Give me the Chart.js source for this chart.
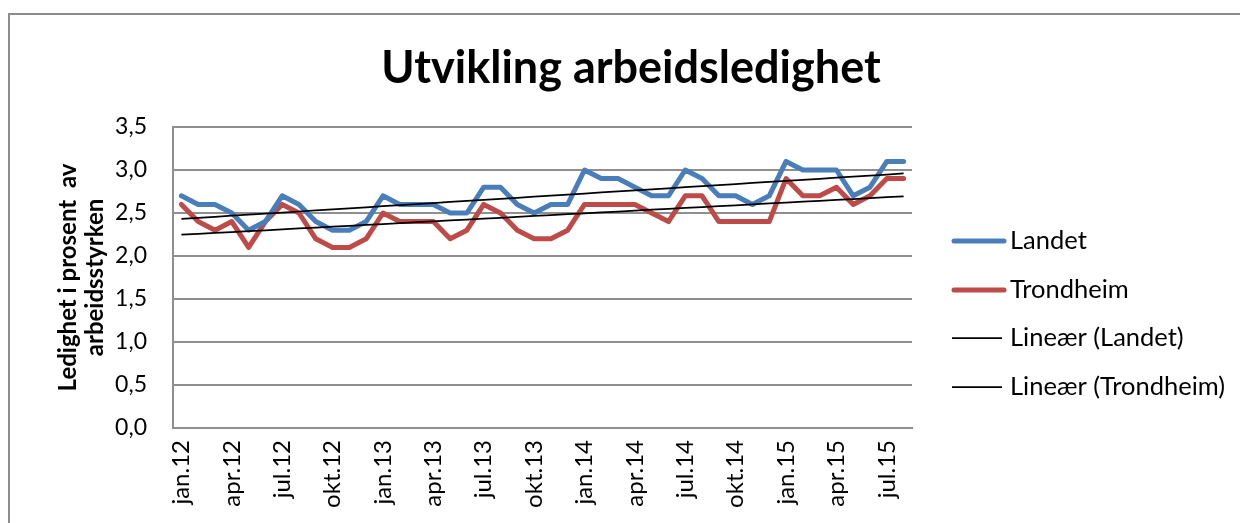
<!DOCTYPE html>
<html>
<head>
<meta charset="utf-8">
<script src="https://cdn.jsdelivr.net/npm/chart.js@4"></script>
<style>
  html, body { margin: 0; padding: 0; background: #ffffff; }
  #wrap { width: 1240px; height: 523px; position: relative; }
</style>
</head>
<body>
<div id="wrap"><canvas id="c" width="1240" height="523"></canvas></div>
<script>
// ---- DATA ----
const months = [
  'jan.12','feb.12','mar.12','apr.12','mai.12','jun.12','jul.12','aug.12','sep.12','okt.12','nov.12','des.12',
  'jan.13','feb.13','mar.13','apr.13','mai.13','jun.13','jul.13','aug.13','sep.13','okt.13','nov.13','des.13',
  'jan.14','feb.14','mar.14','apr.14','mai.14','jun.14','jul.14','aug.14','sep.14','okt.14','nov.14','des.14',
  'jan.15','feb.15','mar.15','apr.15','mai.15','jun.15','jul.15','aug.15'
];
const landet = [
  2.7,2.6,2.6,2.5,2.3,2.4,2.7,2.6,2.4,2.3,2.3,2.4,
  2.7,2.6,2.6,2.6,2.5,2.5,2.8,2.8,2.6,2.5,2.6,2.6,
  3.0,2.9,2.9,2.8,2.7,2.7,3.0,2.9,2.7,2.7,2.6,2.7,
  3.1,3.0,3.0,3.0,2.7,2.8,3.1,3.1
];
const trondheim = [
  2.6,2.4,2.3,2.4,2.1,2.4,2.6,2.5,2.2,2.1,2.1,2.2,
  2.5,2.4,2.4,2.4,2.2,2.3,2.6,2.5,2.3,2.2,2.2,2.3,
  2.6,2.6,2.6,2.6,2.5,2.4,2.7,2.7,2.4,2.4,2.4,2.4,
  2.9,2.7,2.7,2.8,2.6,2.7,2.9,2.9
];
const xTickLabels = ['jan.12','apr.12','jul.12','okt.12','jan.13','apr.13','jul.13','okt.13','jan.14','apr.14','jul.14','okt.14','jan.15','apr.15','jul.15'];
const yTickLabels = ['0,0','0,5','1,0','1,5','2,0','2,5','3,0','3,5'];
const seriesNames = ['Landet','Trondheim','Lineær (Landet)','Lineær (Trondheim)'];
const titleText = 'Utvikling arbeidsledighet';
const yTitle = ['Ledighet i prosent  av', 'arbeidsstyrken'];

// Linear trend (least squares, as Excel's linear trendline)
function linearTrend(vals) {
  const n = vals.length;
  let sx = 0, sy = 0, sxx = 0, sxy = 0;
  vals.forEach((v, i) => { const x = i + 1; sx += x; sy += v; sxx += x * x; sxy += x * v; });
  const b = (n * sxy - sx * sy) / (n * sxx - sx * sx);
  const a = (sy - b * sx) / n;
  return vals.map((_, i) => a + b * (i + 1));
}
const trendLandet = linearTrend(landet);
const trendTrondheim = linearTrend(trondheim);

// ---- STYLE ----
const FONT = 'Lato, "Open Sans", sans-serif';
const BLUE = '#4a7ebb';
const RED = '#be4b48';
const GRID = '#8f8f8f';

const decorPlugin = {
  id: 'decor',
  beforeDraw(chart) {
    const ctx = chart.ctx;
    ctx.save();
    ctx.fillStyle = '#fff';
    ctx.fillRect(0, 0, chart.width, chart.height);
    ctx.strokeStyle = '#8c8c8c';
    ctx.lineWidth = 2;
    ctx.beginPath();
    ctx.moveTo(9, 523);
    ctx.lineTo(9, 14);
    ctx.lineTo(1240, 14);
    ctx.stroke();
    ctx.restore();
  },
  afterDraw(chart) {
    const ctx = chart.ctx;
    ctx.save();
    // Title
    ctx.fillStyle = '#000';
    ctx.font = 'bold 45px ' + FONT;
    ctx.textAlign = 'center';
    ctx.textBaseline = 'alphabetic';
    ctx.fillText(titleText, 631, 83);
    // Legend
    const items = [
      { c: BLUE, w: 5, y: 241 },
      { c: RED, w: 5, y: 290 },
      { c: '#000', w: 1.75, y: 338 },
      { c: '#000', w: 1.75, y: 387 }
    ];
    ctx.font = '25.5px ' + FONT;
    ctx.textAlign = 'left';
    ctx.textBaseline = 'middle';
    items.forEach((it, i) => {
      ctx.strokeStyle = it.c;
      ctx.lineWidth = it.w;
      ctx.lineCap = it.w > 2 ? 'round' : 'butt';
      ctx.beginPath();
      ctx.moveTo(it.w > 2 ? 954 : 952, it.y);
      ctx.lineTo(it.w > 2 ? 1004 : 1002, it.y);
      ctx.stroke();
      ctx.fillStyle = '#000';
      ctx.fillText(seriesNames[i], 1010, it.y);
    });
    ctx.restore();
  }
};

new Chart(document.getElementById('c'), {
  type: 'line',
  data: {
    labels: months,
    datasets: [
      { label: seriesNames[2], data: trendLandet, borderColor: '#000', borderWidth: 1.75, pointRadius: 0, order: 0 },
      { label: seriesNames[3], data: trendTrondheim, borderColor: '#000', borderWidth: 1.75, pointRadius: 0, order: 0 },
      { label: seriesNames[0], data: landet, borderColor: BLUE, borderWidth: 5, pointRadius: 0, order: 1,
        borderJoinStyle: 'round', borderCapStyle: 'round' },
      { label: seriesNames[1], data: trondheim, borderColor: RED, borderWidth: 5, pointRadius: 0, order: 2,
        borderJoinStyle: 'round', borderCapStyle: 'round' }
    ]
  },
  options: {
    responsive: false,
    animation: false,
    devicePixelRatio: 1,
    layout: { padding: { top: 127, left: 0, right: 328, bottom: 0 } },
    plugins: {
      legend: { display: false },
      title: { display: false },
      tooltip: { enabled: false }
    },
    elements: { line: { tension: 0 } },
    scales: {
      x: {
        type: 'category',
        offset: true,
        grid: { display: false, drawTicks: false },
        border: { display: true, color: GRID, width: 2 },
        ticks: {
          autoSkip: false,
          maxRotation: 90,
          minRotation: 90,
          padding: 12,
          color: '#000',
          font: { family: FONT, size: 24 },
          callback: function (val, idx) {
            const lab = months[idx];
            return xTickLabels.includes(lab) ? lab : '';
          }
        },
        afterFit(scale) { scale.height = 95; }
      },
      y: {
        min: 0,
        max: 3.5,
        grid: { color: GRID, lineWidth: 2, drawTicks: false },
        border: { display: true, color: GRID, width: 2 },
        ticks: {
          stepSize: 0.5,
          padding: 26,
          color: '#000',
          font: { family: FONT, size: 23 },
          callback: function (v) { return yTickLabels[Math.round(v / 0.5)]; }
        },
        title: {
          display: true,
          text: yTitle,
          color: '#000',
          font: { family: FONT, size: 24, weight: 'bold', lineHeight: 1.15 },
          padding: { top: 54, bottom: 0 }
        },
        afterFit(scale) { scale.width = 173; }
      }
    }
  },
  plugins: [decorPlugin]
});
</script>
</body>
</html>
